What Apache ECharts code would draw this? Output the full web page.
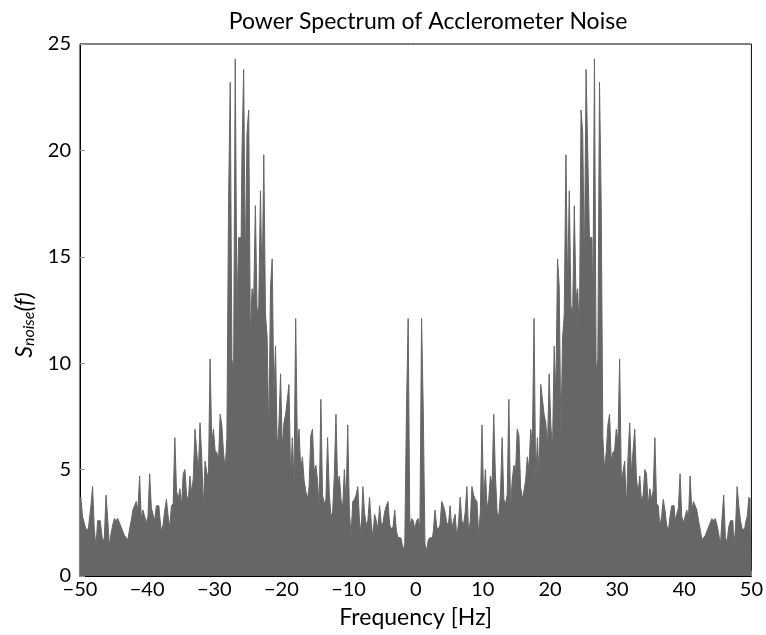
<!DOCTYPE html>
<html>
<head>
<meta charset="utf-8">
<script src="https://cdn.jsdelivr.net/npm/echarts@6/dist/echarts.min.js"></script>
<style>html,body{margin:0;padding:0;background:#fff}#c{width:766px;height:635px}</style>
</head>
<body>
<div id="c"></div>
<script>
// Positive-frequency half of the (symmetric) spectrum, sampled every 0.25 Hz from 0 to 50 Hz
const freqStep = 0.25;
const specRow0  = [2.2, 2.6, 2.7, 2.3, 12.1, 7.8, 1.5, 1.2, 1.7, 1.8, 1.8, 2.1, 3.1, 2.3, 2.2, 2.4, 3.5, 3.3, 3.0, 2.5];   // 0 - 4.75 Hz
const specRow1  = [2.4, 3.3, 2.2, 2.6, 2.9, 1.8, 2.5, 3.7, 2.6, 2.4, 3.0, 4.2, 2.0, 2.6, 4.2, 3.8, 3.6, 3.5, 1.9, 3.0];    // 5 - 9.75
const specRow2  = [7.1, 3.4, 5.0, 3.2, 3.6, 4.7, 4.3, 7.6, 4.7, 3.0, 2.8, 3.9, 6.5, 3.6, 3.4, 3.8, 8.3, 3.2, 4.5, 5.2];    // 10 - 14.75
const specRow3  = [4.9, 6.9, 6.6, 4.2, 3.6, 4.0, 4.5, 5.6, 5.0, 6.9, 6.2, 12.1, 4.4, 6.5, 4.6, 9.0, 8.3, 7.6, 7.2, 6.0];   // 15 - 19.75
const specRow4  = [9.5, 7.1, 5.9, 10.8, 8.5, 14.9, 13.6, 6.5, 11.2, 12.3, 19.8, 13.5, 18.1, 12.7, 12.3, 17.4, 13.1, 13.5, 11.2, 21.9]; // 20 - 24.75
const specRow5  = [20.8, 14.5, 23.8, 19.9, 15.9, 15.9, 12.3, 24.3, 9.6, 10.2, 23.2, 17.6, 6.5, 5.0, 5.8, 7.1, 7.6, 5.4, 5.8, 5.9]; // 25 - 29.75
const specRow6  = [6.9, 6.3, 10.2, 4.5, 4.9, 5.4, 3.2, 5.6, 7.2, 4.8, 5.9, 6.9, 4.6, 3.9, 4.7, 3.5, 3.8, 5.0, 4.8, 3.3];   // 30 - 34.75
const specRow7  = [4.1, 3.6, 4.0, 6.5, 3.4, 3.3, 2.3, 2.8, 3.6, 3.1, 2.4, 2.1, 2.8, 3.3, 3.3, 2.6, 2.9, 3.2, 4.8, 2.8];    // 35 - 39.75
const specRow8  = [2.5, 2.8, 3.1, 2.7, 4.7, 3.1, 3.5, 3.3, 3.1, 2.6, 2.2, 1.7, 1.8, 1.9, 2.1, 2.3, 2.5, 2.7, 2.6, 2.7];    // 40 - 44.75
const specRow9  = [2.4, 2.0, 1.4, 2.7, 3.8, 1.8, 1.6, 2.3, 2.6, 2.6, 1.4, 2.2, 4.2, 3.3, 2.6, 2.2, 2.2, 2.5, 2.8, 3.7];    // 45 - 49.75
const specEnd   = [3.6];                                                                                                   // 50 Hz

const xTicks = [-50, -40, -30, -20, -10, 0, 10, 20, 30, 40, 50];
const yTicks = [0, 5, 10, 15, 20, 25];

const positiveHalf = [].concat(specRow0, specRow1, specRow2, specRow3, specRow4,
                               specRow5, specRow6, specRow7, specRow8, specRow9, specEnd);

// The spectrum of a real signal is mirror-symmetric about 0 Hz
const data = [];
for (let i = positiveHalf.length - 1; i >= 1; i--) data.push([-i * freqStep, positiveHalf[i]]);
for (let i = 0; i < positiveHalf.length; i++) data.push([i * freqStep, positiveHalf[i]]);

const FONT = 'Lato';
const chart = echarts.init(document.getElementById('c'), null, {renderer: 'canvas'});
chart.setOption({
  animation: false,
  backgroundColor: '#fff',
  title: {
    text: 'Power Spectrum of Acclerometer Noise',
    left: 423, top: 5, textAlign: 'center',
    textStyle: {fontFamily: FONT, fontSize: 23, fontWeight: 'normal', color: '#000'}
  },
  grid: {left: 80, right: 11, top: 44, bottom: 59, show: true, borderColor: '#000', borderWidth: 1, backgroundColor: 'transparent'},
  xAxis: {
    type: 'value', min: xTicks[0], max: xTicks[xTicks.length - 1], interval: 10,
    name: 'Frequency [Hz]', nameLocation: 'middle', nameGap: 30,
    nameTextStyle: {fontFamily: FONT, fontSize: 23, color: '#000'},
    axisLine: {show: true, onZero: false, lineStyle: {color: '#000', width: 1}},
    axisTick: {show: true, inside: true, length: 5, lineStyle: {color: '#999'}},
    splitLine: {show: false},
    axisLabel: {fontFamily: FONT, fontSize: 20, color: '#000', margin: 4,
      formatter: v => String(v).replace('-', '\u2212')}
  },
  yAxis: {
    type: 'value', min: yTicks[0], max: yTicks[yTicks.length - 1], interval: 5,
    name: '{s|S}{sub|noise}{s|(f)}', nameLocation: 'middle', nameGap: 40, nameRotate: 90,
    nameTextStyle: {padding: [0, 0, 0, -30], rich: {
      s: {fontFamily: FONT, fontSize: 23, fontStyle: 'italic', color: '#000'},
      sub: {fontFamily: FONT, fontSize: 16, fontStyle: 'italic', color: '#000', verticalAlign: 'bottom', padding: [8, 0, 0, 0]}
    }},
    axisLine: {show: true, onZero: false, lineStyle: {color: '#000', width: 1}},
    axisTick: {show: true, inside: true, length: 5, lineStyle: {color: '#999'}},
    splitLine: {show: false},
    axisLabel: {fontFamily: FONT, fontSize: 20, color: '#000', margin: 9}
  },
  series: [{
    type: 'line', data: data, showSymbol: false, sampling: null, step: 'middle',
    lineStyle: {color: '#666', width: 1},
    areaStyle: {color: '#666', opacity: 1},
    z: 1
  }]
});
</script>
</body>
</html>
